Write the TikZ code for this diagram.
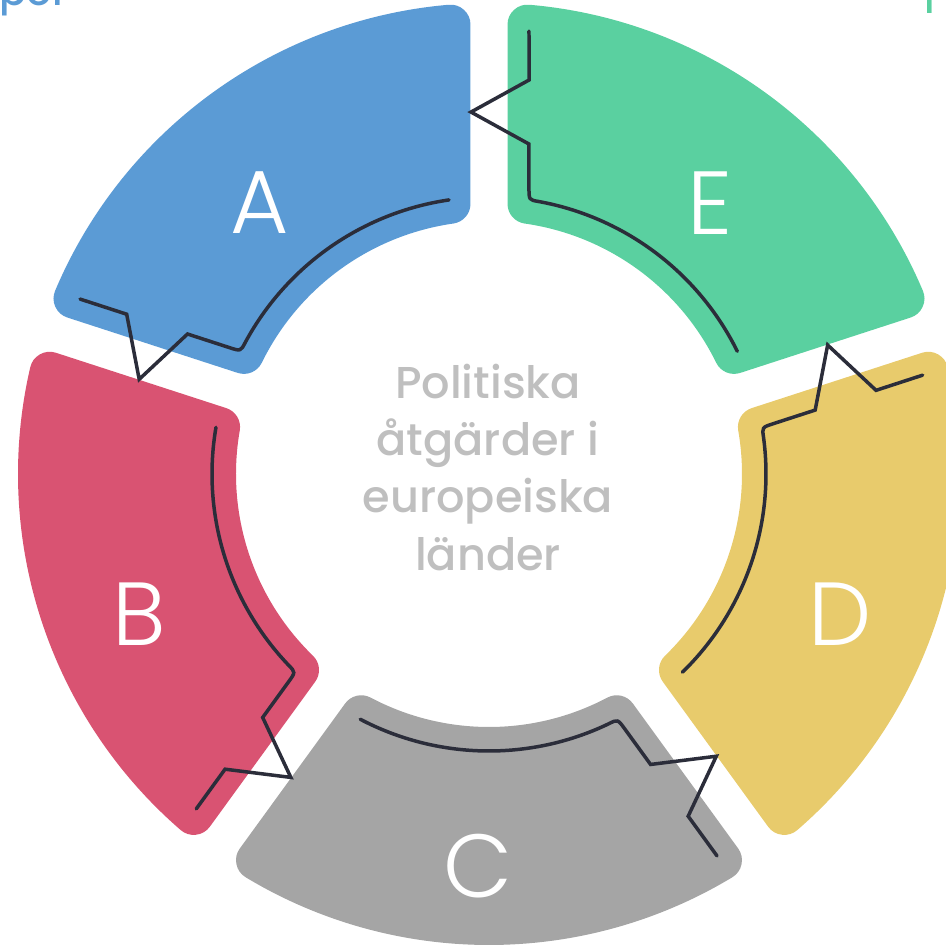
\documentclass[tikz,border=0pt]{standalone}
\usepackage{fontspec}
\setmainfont{Poppins}
\newfontfamily\letterfont{Poppins Light}
\newfontfamily\titlefont{Poppins Medium}
\definecolor{segA}{RGB}{91,155,213}
\definecolor{segB}{RGB}{217,83,114}
\definecolor{segC}{RGB}{165,165,165}
\definecolor{segD}{RGB}{232,203,108}
\definecolor{segE}{RGB}{90,208,160}
\definecolor{wirecol}{RGB}{43,45,58}
\definecolor{titlegray}{RGB}{191,191,191}
\begin{document}
\begin{tikzpicture}[scale=0.02]
\tikzstyle{every node}+=[inner sep=0pt]
\tikzstyle{ring}=[line width=0.8cm, line join=round]
\tikzstyle{wire}=[draw=wirecol, line width=0.07cm, line cap=round]
\tikzstyle{letter}=[text=white, font=\letterfont\fontsize{51}{51}\selectfont]
\tikzstyle{title}=[text=titlegray, anchor=base, font=\titlefont\fontsize{25.4}{30}\selectfont]
\clip (-489,-473) rectangle (457,474);
\filldraw [ring, fill=segE, draw=segE] (22.9:451) arc (22.9:85.1:451) -- (81.89:273) arc (81.89:26.11:273) -- cycle;
\filldraw [ring, fill=segA, draw=segA] (94.9:451) arc (94.9:157.1:451) -- (153.89:273) arc (153.89:98.11:273) -- cycle;
\filldraw [ring, fill=segB, draw=segB] (166.9:451) arc (166.9:229.1:451) -- (225.89:273) arc (225.89:170.11:273) -- cycle;
\filldraw [ring, fill=segC, draw=segC] (238.9:451) arc (238.9:301.1:451) -- (297.89:273) arc (297.89:242.11:273) -- cycle;
\filldraw [ring, fill=segD, draw=segD] (310.9:451) arc (310.9:373.1:451) -- (369.89:273) arc (369.89:314.11:273) -- cycle;
\draw [wire] (26.3:277) arc (26.3:79.63:277) .. controls (81.7:277) .. (82.04:288.8) -- (83.09:332.4) -- (92.85:362.4) -- (84.2:396) -- (84.84:444.8);
\draw [wire] (98.3:277) arc (98.3:151.63:277) .. controls (153.7:277) .. (154.04:288.8) -- (155.09:332.4) -- (164.85:362.4) -- (156.2:396) -- (156.84:444.8);
\draw [wire] (170.3:277) arc (170.3:223.63:277) .. controls (225.7:277) .. (226.04:288.8) -- (227.09:332.4) -- (236.85:362.4) -- (228.2:396) -- (228.84:444.8);
\draw [wire] (242.3:277) arc (242.3:295.63:277) .. controls (297.7:277) .. (298.04:288.8) -- (299.09:332.4) -- (308.85:362.4) -- (300.2:396) -- (300.84:444.8);
\draw [wire] (314.3:277) arc (314.3:367.63:277) .. controls (369.7:277) .. (370.04:288.8) -- (371.09:332.4) -- (380.85:362.4) -- (372.2:396) -- (372.84:444.8);
\node [letter] (A) at (-229,271) {A};
\node [letter] (B) at (-350,-140) {B};
\node [letter] (C) at (-11,-392) {C};
\node [letter] (D) at (351,-140) {D};
\node [letter] (E) at (221,271) {E};
\node [title] (pol) at (-1,76) {Politiska};
\node [title] (atg) at (-1,19) {åtgärder i};
\node [title] (eur) at (-1,-38) {europeiska};
\node [title] (lan) at (-1,-96) {länder};
\node [anchor=base west, text=segA, font=\titlefont\fontsize{22.8}{24}\selectfont] (topleft) at (-490,469) {pol};
\node [anchor=base west, text=segE, font=\titlefont\fontsize{22.8}{24}\selectfont] (topright) at (435,461) {l};
\end{tikzpicture}
\end{document}
